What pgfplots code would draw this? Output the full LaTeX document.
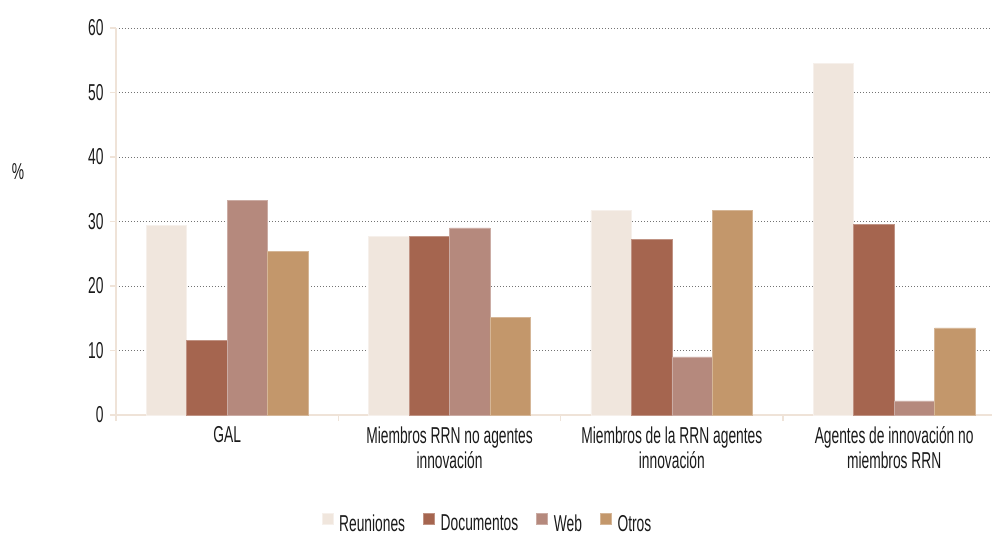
\documentclass[border=0pt]{standalone}
\usepackage{fontspec}
\setmainfont{Liberation Sans}[FakeStretch=0.6]
\usepackage{pgfplots}
\pgfplotsset{compat=1.18}

\definecolor{creuniones}{HTML}{F0E6DD}
\definecolor{cdocumentos}{HTML}{A5654F}
\definecolor{cweb}{HTML}{B5897D}
\definecolor{cotros}{HTML}{C3976B}
\definecolor{axisbeige}{HTML}{EFE3D8}
\definecolor{txt}{HTML}{1A1A1A}

\begin{document}
\begin{tikzpicture}[font=\fontsize{23}{25}\selectfont, text=txt]
\path[use as bounding box] (-116pt,-121pt) rectangle (876pt,415pt);
\begin{axis}[
  at={(0pt,0pt)}, anchor=south west,
  scale only axis,
  width=876pt, height=387pt,
  ybar=0pt, bar width=0.182,
  xmin=-0.5, xmax=3.44,
  ymin=0, ymax=60,
  ytick={0,10,...,60},
  xtick={0,1,2,3},
  minor xtick={-0.5,0.5,1.5,2.5},
  xticklabels={GAL, Miembros RRN no agentes\\innovación, Miembros de la RRN agentes\\innovación, Agentes de innovación no\\miembros RRN},
  xticklabel style={align=center, yshift=-2pt},
  major x tick style={draw=none},
  minor x tick style={axisbeige, line width=1.5pt},
  minor tick length=6pt,
  y tick style={axisbeige, line width=1.5pt},
  major tick length=6pt,
  tick align=outside,
  axis lines*=left,
  axis line style={axisbeige, line width=2pt},
  ymajorgrids,
  major grid style={black!55, line width=1pt, dash pattern=on 1.1pt off 1.9pt},
  yticklabel style={xshift=-3pt},
  /pgf/number format/assume math mode=true,
  ylabel={\%},
  ylabel style={rotate=-90, at={(rel axis cs:-0.112,0.628)}, anchor=center},
  legend columns=4,
  legend style={draw=none, fill=none, at={(0.424,-0.281)}, anchor=center,
    /tikz/every even column/.append style={column sep=16pt},
    font=\fontsize{23}{25}\selectfont},
  legend image code/.code={\fill[#1] (0pt,-1pt) rectangle (11pt,10pt); \path (15pt,0pt);},
  clip=false,
]
\addplot[fill=creuniones, draw=creuniones!60!white, line width=0.6pt] coordinates {(0,29.4) (1,27.7) (2,31.7) (3,54.5)};
\addplot[fill=cdocumentos, draw=cdocumentos!70!white, line width=0.6pt] coordinates {(0,11.6) (1,27.7) (2,27.2) (3,29.5)};
\addplot[fill=cweb, draw=cweb!70!white, line width=0.6pt] coordinates {(0,33.3) (1,29.0) (2,9.0) (3,2.2)};
\addplot[fill=cotros, draw=cotros!70!white, line width=0.6pt] coordinates {(0,25.4) (1,15.1) (2,31.7) (3,13.5)};
\legend{Reuniones, Documentos, Web, Otros}
\end{axis}
\end{tikzpicture}
\end{document}
